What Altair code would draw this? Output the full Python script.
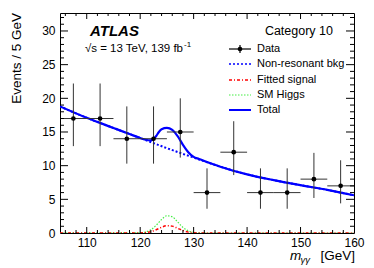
import altair as alt
import pandas as pd

FONT = "Liberation Sans"

# ---- data ----
bin_centers = [107.5, 112.5, 117.5, 122.5, 127.5, 132.5, 137.5, 142.5, 147.5, 152.5, 157.5]
counts = [17, 17, 14, 14, 15, 6, 12, 6, 6, 8, 7]
err_hi = [22.2, 22.2, 18.8, 18.8, 20.0, 9.6, 16.6, 9.6, 9.6, 11.9, 10.8]
err_lo = [12.9, 12.9, 10.3, 10.3, 11.2, 3.6, 8.6, 3.6, 3.6, 5.2, 4.4]
bin_half = 2.5

bkg_x = [105, 110, 115, 120, 125, 130, 135, 140, 145, 150, 155, 160]
bkg_y = [18.8, 17.1, 15.6, 14.1, 12.6, 11.2, 9.85, 8.7, 7.85, 7.1, 6.4, 5.6]

total_x = [105, 110, 115, 118, 120, 121, 122, 123, 123.5, 124, 125, 126, 127, 128, 129, 130, 131, 132,
           135, 140, 145, 150, 155, 160]
total_y = [18.8, 17.1, 15.6, 14.7, 14.1, 13.85, 13.75, 14.4, 15.0, 15.4, 15.6, 15.3, 14.4, 13.1, 12.0,
           11.3, 11.0, 10.7, 9.85, 8.7, 7.85, 7.1, 6.4, 5.6]

sig_x = [105, 119, 120, 121, 122, 123, 124, 125, 126, 127, 128, 129, 130, 131, 132, 160]
higgs_y = [0, 0.006, 0.034, 0.15, 0.48, 1.15, 2.0, 2.56, 2.41, 1.66, 0.84, 0.31, 0.086, 0.017, 0, 0]
fitted_y = [0, 0.003, 0.014, 0.063, 0.2, 0.49, 0.85, 1.08, 1.02, 0.70, 0.36, 0.13, 0.036, 0.007, 0, 0]

x_labels = [110, 120, 130, 140, 150, 160]
y_labels = [0, 5, 10, 15, 20, 25, 30]
x_minor = [v for v in range(106, 160, 2) if v % 10 != 0]
y_minor = [v for v in range(1, 33) if v % 5 != 0]
y_major = [5, 10, 15, 20, 25, 30]
x_major = [110, 120, 130, 140, 150]

# ---- layout ----
W, H = 294, 220
xscale = alt.Scale(domain=[105, 160], nice=False, zero=False)
yscale = alt.Scale(domain=[0, 32.67], nice=False, zero=False)
xaxis = alt.Axis(values=x_labels, title=None, ticks=False, domain=False, grid=False,
                 labelFont=FONT, labelFontSize=12, labelColor="black", labelPadding=4,
                 labelFlush=False, labelOverlap=False)
yaxis = alt.Axis(values=y_labels, title=None, ticks=False, domain=False, grid=False,
                 labelFont=FONT, labelFontSize=12, labelColor="black", labelPadding=5,
                 labelFlush=False, labelOverlap=False)


def X(f):
    return alt.X(f"{f}:Q", scale=xscale, axis=xaxis)


def Y(f):
    return alt.Y(f"{f}:Q", scale=yscale, axis=yaxis)


data_df = pd.DataFrame({"x": bin_centers, "y": counts, "hi": err_hi, "lo": err_lo,
                        "xl": [c - bin_half for c in bin_centers],
                        "xr": [c + bin_half for c in bin_centers]})
bkg_df = pd.DataFrame({"x": bkg_x, "y": bkg_y})
tot_df = pd.DataFrame({"x": total_x, "y": total_y})
sig_df = pd.DataFrame({"x": sig_x, "h": higgs_y, "f": fitted_y})
one = pd.DataFrame({"a": [0]})

layers = []
# curves
layers.append(alt.Chart(sig_df).mark_line(color="#44ee44", strokeWidth=1.2, strokeDash=[1.5, 1.5],
                                          interpolate="monotone", clip=True).encode(x=X("x"), y=Y("h")))
layers.append(alt.Chart(sig_df).mark_line(color="#ff0000", strokeWidth=1.5, strokeDash=[3, 2, 1, 2],
                                          interpolate="monotone", clip=True).encode(x=X("x"), y=Y("f")))
layers.append(alt.Chart(bkg_df).mark_line(color="#0000ff", strokeWidth=2, strokeDash=[2, 2],
                                          interpolate="monotone", clip=True).encode(x=X("x"), y=Y("y")))
layers.append(alt.Chart(tot_df).mark_line(color="#0000ff", strokeWidth=2.2,
                                          interpolate="monotone", clip=True).encode(x=X("x"), y=Y("y")))
# data
layers.append(alt.Chart(data_df).mark_rule(color="#333333", strokeWidth=1).encode(
    x=X("x"), y=Y("lo"), y2="hi:Q"))
layers.append(alt.Chart(data_df).mark_rule(color="#333333", strokeWidth=1).encode(
    x=X("xl"), x2="xr:Q", y=Y("y")))
layers.append(alt.Chart(data_df).mark_circle(color="black", size=22, opacity=1).encode(
    x=X("x"), y=Y("y")))

# inward ticks on all four sides
xmaj = pd.DataFrame({"v": x_major})
xmin = pd.DataFrame({"v": x_minor})
ymaj = pd.DataFrame({"v": y_major})
ymin = pd.DataFrame({"v": y_minor})
for df, ln in ((xmaj, 6), (xmin, 3)):
    layers.append(alt.Chart(df).mark_rule(color="black", strokeWidth=1).encode(
        x=X("v"), y=alt.value(H), y2=alt.value(H - ln)))
    layers.append(alt.Chart(df).mark_rule(color="black", strokeWidth=1).encode(
        x=X("v"), y=alt.value(0), y2=alt.value(ln)))
for df, ln in ((ymaj, 8), (ymin, 4)):
    layers.append(alt.Chart(df).mark_rule(color="black", strokeWidth=1).encode(
        y=Y("v"), x=alt.value(0), x2=alt.value(ln)))
    layers.append(alt.Chart(df).mark_rule(color="black", strokeWidth=1).encode(
        y=Y("v"), x=alt.value(W), x2=alt.value(W - ln)))


def txt(text, x, y, size=12, align="left", baseline="middle", **kw):
    return alt.Chart(one).mark_text(text=text, align=align, baseline=baseline, fontSize=size,
                                    font=FONT, color="black", **kw).encode(
        x=alt.value(x), y=alt.value(y))


# annotations
layers.append(txt("ATLAS", 30, 18, size=15, fontStyle="italic", fontWeight="bold"))
layers.append(txt("\u221as = 13 TeV, 139 fb", 123, 36, size=11.5, align="right"))
layers.append(txt("-1", 124, 32, size=8))
layers.append(txt("Category 10", 273, 18, size=12.5, align="right"))

# legend
leg_x0, leg_x1, leg_tx = 169, 191, 197
rows = [36, 51, 67, 82, 97]
labels = ["Data", "Non-resonant bkg", "Fitted signal", "SM Higgs", "Total"]
for r, lab in zip(rows, labels):
    layers.append(txt(lab, leg_tx, r, size=11))
layers.append(alt.Chart(one).mark_rule(color="black", strokeWidth=1.2).encode(
    x=alt.value(leg_x0), x2=alt.value(leg_x1), y=alt.value(rows[0])))
layers.append(alt.Chart(one).mark_rule(color="black", strokeWidth=1.2).encode(
    x=alt.value((leg_x0 + leg_x1) / 2), y=alt.value(rows[0] - 4), y2=alt.value(rows[0] + 4)))
layers.append(alt.Chart(one).mark_circle(color="black", size=22, opacity=1).encode(
    x=alt.value((leg_x0 + leg_x1) / 2), y=alt.value(rows[0])))
layers.append(alt.Chart(one).mark_rule(color="#0000ff", strokeWidth=1.5, strokeDash=[2, 2]).encode(
    x=alt.value(leg_x0), x2=alt.value(leg_x1), y=alt.value(rows[1])))
layers.append(alt.Chart(one).mark_rule(color="#ff0000", strokeWidth=1.5, strokeDash=[3, 2, 1, 2]).encode(
    x=alt.value(leg_x0), x2=alt.value(leg_x1), y=alt.value(rows[2])))
layers.append(alt.Chart(one).mark_rule(color="#44ee44", strokeWidth=1.2, strokeDash=[1.5, 1.5]).encode(
    x=alt.value(leg_x0), x2=alt.value(leg_x1), y=alt.value(rows[3])))
layers.append(alt.Chart(one).mark_rule(color="#0000ff", strokeWidth=2).encode(
    x=alt.value(leg_x0), x2=alt.value(leg_x1), y=alt.value(rows[4])))

# axis titles
layers.append(txt("Events / 5 GeV", -43.5, 0, size=13.5, align="right", angle=270))
layers.append(txt("m", 230, 247, size=13.5, baseline="alphabetic", fontStyle="italic"))
layers.append(txt("\u03b3\u03b3", 240.5, 250, size=9.5, baseline="alphabetic", fontStyle="italic"))
layers.append(txt("[GeV]", 295, 247, size=13.5, align="right", baseline="alphabetic"))

chart = alt.layer(*layers).properties(
    width=W, height=H,
    autosize=alt.AutoSizeParams(type="none"),
    padding={"left": 52, "top": 5, "right": 12, "bottom": 35},
    background="white",
).configure_view(stroke="black", strokeWidth=1)

chart.save("out.html", embed_options={"renderer": "svg", "actions": False})
